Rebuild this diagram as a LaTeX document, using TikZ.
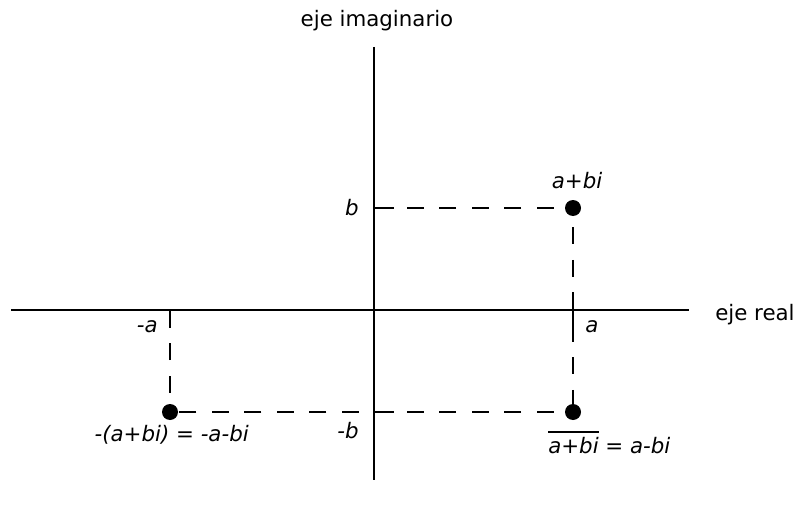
\documentclass[tikz,border=0pt]{standalone}
\usepackage{fontspec}
\setmainfont{DejaVu Sans}
\usetikzlibrary{positioning}
\newcommand\barred[1]{\leavevmode\vbox{\hrule height 1.1pt\kern 3pt\hbox{#1}}}
\tikzset{
  axisline/.style={line width=1.5pt, black},
  tickline/.style={line width=1.5pt, black},
  guide/.style   ={line width=1.5pt, black,
                   dash pattern=on 12.75pt off 11.6pt, dash phase=9.75pt},
  cpoint/.style  ={circle, fill=black, inner sep=0pt, minimum size=12pt},
  lbl/.style     ={font=\fontsize{16}{19}\selectfont, inner sep=0pt},
}

\begin{document}
\begin{tikzpicture}[x=0.75pt, y=-0.75pt]
\useasboundingbox (0,0) rectangle (804,510);

%% ════════════════════════════════════════════════════════════
%%  AXES
%% ════════════════════════════════════════════════════════════
\coordinate (xl) at (11,310);
\coordinate (xr) at (689,310);
\coordinate (yt) at (374,47);
\coordinate (yb) at (374,480);

\draw[axisline] (xl) -- (xr);
\draw[axisline] (yt) -- (yb);

\node[lbl, anchor=base] (imlbl) at (377,27) {eje imaginario};
\node[lbl, anchor=base west] (relbl) at (715,320) {eje real};

% ticks
\coordinate (ta)  at (573,310);
\coordinate (tna) at (170,310);
\coordinate (tb)  at (374,208);
\coordinate (tnb) at (374,412);
\draw[tickline] (ta)  -- ++(0,18);
\draw[tickline] (tna) -- ++(0,17);
\draw[tickline] (tb)  -- ++(20,0);
\draw[tickline] (tnb) -- ++(20,0);

\node[lbl, anchor=base west] (albl)  at (585,332) {\itshape a};
\node[lbl, anchor=base east] (nalbl) at (158,332) {\itshape -a};
\node[lbl, anchor=base east] (blbl)  at (359,215) {\itshape b};
\node[lbl, anchor=base east] (nblbl) at (359,438) {\itshape -b};

%% ════════════════════════════════════════════════════════════
%%  POINTS
%% ════════════════════════════════════════════════════════════
\coordinate (z)   at (573,208);
\coordinate (zc)  at (573,412);
\coordinate (zn)  at (170,412);

% dashed guides
\draw[guide] (z) -- (tb);
\draw[guide] (z) -- (zc);
\draw[guide] (zc) -- (zn);
\draw[guide] (zn) -- (tna);

\node[cpoint] (pz)  at (z)  {};
\node[cpoint] (pzc) at (zc) {};
\node[cpoint] (pzn) at (zn) {};

\node[lbl, anchor=base] (zlbl) at (577,188) {\itshape a+bi};
\node[lbl, anchor=base east] (znlbl) at (249,441)
  {\itshape -(a+bi)\upshape{} = \itshape -a-bi};
\node[lbl, anchor=base west] (zclbl) at (548,453)
  {\barred{\itshape a+bi} = {\itshape a-bi}};

\end{tikzpicture}
\end{document}
